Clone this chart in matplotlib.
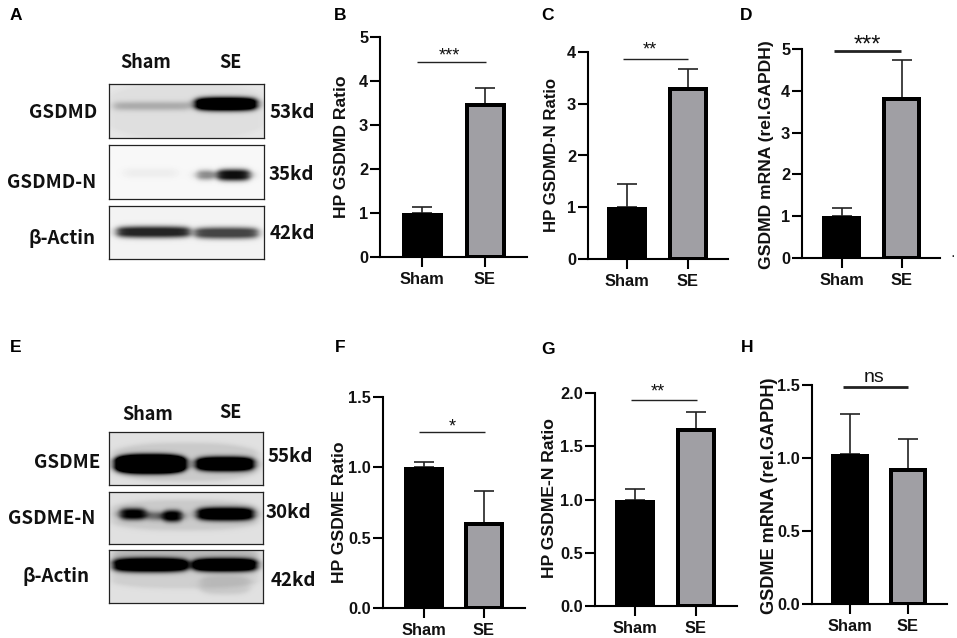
import numpy as np
import matplotlib
matplotlib.use("Agg")
import matplotlib.pyplot as plt

W, H = 957, 638
SANS = "Liberation Sans"
BLOT = "Noto Sans CJK KR"

groups = ["Sham", "SE"]

b_values = [1.0, 3.45]
b_err_top = [1.14, 3.84]
c_values = [1.0, 3.28]
c_err_top = [1.45, 3.68]
d_values = [1.0, 3.80]
d_err_top = [1.20, 4.73]
f_values = [1.0, 0.60]
f_err_top = [1.04, 0.83]
g_values = [1.0, 1.65]
g_err_top = [1.10, 1.82]
h_values = [1.03, 0.92]
h_err_top = [1.30, 1.13]

b_ticks = [0, 1, 2, 3, 4, 5]
c_ticks = [0, 1, 2, 3, 4]
d_ticks = [0, 1, 2, 3, 4, 5]
f_ticks = [0.0, 0.5, 1.0, 1.5]
g_ticks = [0.0, 0.5, 1.0, 1.5, 2.0]
h_ticks = [0.0, 0.5, 1.0, 1.5]

fig = plt.figure(figsize=(W / 100, H / 100), dpi=100, facecolor="white")


def fx(x):
    return x / W


def fy(y):
    return 1 - y / H


def ftext(x, y, s, **kw):
    kw.setdefault("family", SANS)
    kw.setdefault("fontweight", "bold")
    kw.setdefault("color", "#111111")
    kw.setdefault("va", "center")
    fig.text(fx(x), fy(y), s, **kw)


def panel(values, err_top, ticks, fmt, ylabel, sig, left, right, y0, ytop, c0, c1, bw,
          ylabel_xy, sig_label, sig_label_xy, sig_span, sig_lw=1.0, sig_size=13, ylabel_size=12.6):
    ax = fig.add_axes([fx(left), fy(y0), fx(right - left), (y0 - ytop) / H])
    s = c1 - c0
    ax.set_xlim((left - c0) / s, (right - c0) / s)
    ax.set_ylim(0, ticks[-1])
    ax.patch.set_alpha(0)
    edge_px = 4.0
    ax.bar([0], values[0], width=bw / s, color="black", zorder=2)
    ax.bar([1], values[1], width=(bw - edge_px) / s, color="#a09fa4",
           edgecolor="black", linewidth=edge_px * 0.72, zorder=2)
    xs = [0, 1]
    ax.errorbar(xs, values, yerr=[[0, 0], np.array(err_top) - np.array(values)],
                fmt="none", ecolor="#222222", elinewidth=1.2, capsize=7.2,
                capthick=1.2, zorder=1)
    ax.plot([(p - c0) / s for p in sig_span], [sig, sig], color="#222222",
            lw=sig_lw, clip_on=False, solid_capstyle="butt")
    ftext(sig_label_xy[0], sig_label_xy[1], sig_label, ha="center", fontweight="normal",
          fontsize=sig_size)
    for k in ("top", "right"):
        ax.spines[k].set_visible(False)
    for k in ("left", "bottom"):
        ax.spines[k].set_linewidth(1.5)
    ax.set_xticks(xs, groups)
    ax.set_yticks(ticks, [fmt.format(t) for t in ticks])
    ax.tick_params(axis="y", length=7, width=1.5, pad=1.5)
    ax.tick_params(axis="x", length=7, width=1.5, pad=3.5)
    for t in ax.get_xticklabels() + ax.get_yticklabels():
        t.set_family(SANS)
        t.set_fontweight("bold")
        t.set_fontsize(11.8)
        t.set_color("#111111")
    ftext(ylabel_xy[0], ylabel_xy[1], ylabel, rotation=90, ha="center", fontsize=ylabel_size)
    return ax


panel(b_values, b_err_top, b_ticks, "{:d}", "HP GSDMD Ratio", 4.43, 380, 527, 257, 37, 422, 485, 41,
      (341, 147), "***", (449, 56), (417, 486))
panel(c_values, c_err_top, c_ticks, "{:d}", "HP GSDMD-N Ratio", 3.87, 588, 728, 259, 52, 627, 687.5, 40,
      (552, 155), "**", (650, 50), (623, 688), ylabel_size=12.1)
panel(d_values, d_err_top, d_ticks, "{:d}", "GSDMD mRNA (rel.GAPDH)", 4.95, 802, 940, 258, 49, 841.5, 901.5, 39,
      (766, 155), "***", (867, 46), (834, 901), sig_lw=2.0, sig_size=17)
panel(f_values, f_err_top, f_ticks, "{:.1f}", "HP GSDME Ratio", 1.25, 383, 525, 608, 397, 424, 484, 40,
      (340, 512), "*", (452, 427), (419, 485))
panel(g_values, g_err_top, g_ticks, "{:.1f}", "HP GSDME-N Ratio", 1.93, 595, 737, 606, 393, 635, 696, 40,
      (549, 498), "**", (658, 392), (631, 697))
panel(h_values, h_err_top, h_ticks, "{:.1f}", "GSDME mRNA (rel.GAPDH)", 1.486, 812, 947, 604, 385, 850, 908, 38,
      (769, 496), "ns", (874, 377), (843, 908), sig_lw=2.0, sig_size=14, ylabel_size=13.1)

for letter, x, y in [("A", 16, 16), ("B", 340, 16), ("C", 547, 16), ("D", 746, 15),
                     ("E", 16, 348), ("F", 340, 348), ("G", 548, 349), ("H", 747, 347)]:
    ftext(x, y, letter, ha="center", fontsize=12.5, color="black")
ftext(953, 256, "·", ha="center", fontsize=10, fontweight="normal")


def blot(left, right, top, bottom, bg, bands):
    """Render one membrane strip; bands are (x0, x1, y, half height, strength) in page pixels."""
    xx, yy = np.meshgrid(np.arange(left, right) + 0.5, np.arange(top, bottom) + 0.5)
    dark = np.zeros_like(xx, dtype=float)
    for x0, x1, y, hh, k in bands:
        horiz = (1 / (1 + np.exp(-(xx - x0) / 2.5))) * (1 / (1 + np.exp((xx - x1) / 2.5)))
        taper = np.clip(1 - 0.5 * np.abs((xx - (x0 + x1) / 2) / ((x1 - x0) / 2 + 1e-6)) ** 3, 0, 1)
        vert = np.exp(-np.maximum(np.abs(yy - y) - hh * taper, 0) ** 2 / (2 * 3.0 ** 2))
        dark += k * horiz * vert
    img = bg * (1 - np.clip(dark, 0, 1))
    ax = fig.add_axes([fx(left), fy(bottom), fx(right - left), (bottom - top) / H])
    ax.imshow(img, cmap="gray", vmin=0, vmax=1, aspect="auto", interpolation="bilinear")
    ax.set_xticks([])
    ax.set_yticks([])
    for sp in ax.spines.values():
        sp.set_linewidth(0.9)
        sp.set_color("#222222")


blot(109, 264, 84, 138, 0.90, [(114, 190, 106, 0.5, 0.22), (195, 257, 104, 3, 1.35), (109, 264, 111, 25, 0.03)])
blot(109, 264, 145, 199, 0.97, [(124, 177, 173, 1, 0.04), (197, 214, 175, 1, 0.45), (217, 250, 175, 2, 0.95)])
blot(109, 264, 206, 259, 0.95, [(117, 190, 232, 2, 0.85), (195, 258, 233, 2, 0.72)])
blot(109, 263, 432, 485, 0.88, [(115, 186, 464, 6, 1.5), (196, 254, 464, 3.5, 1.3), (112, 258, 462, 16, 0.10)])
blot(109, 263, 492, 544, 0.88, [(120, 146, 514, 2, 0.95), (146, 164, 516, 0.5, 0.4), (163, 182, 516, 2, 1.0),
                                (197, 254, 514, 3, 1.1), (112, 258, 515, 12, 0.10)])
blot(109, 263, 550, 603, 0.88, [(113, 188, 565, 3.5, 1.1), (193, 257, 565, 3, 1.2), (200, 250, 585, 6, 0.10),
                                (112, 258, 558, 7, 0.18), (112, 258, 575, 10, 0.08)])

for s, x, y in [("GSDMD", 97, 112), ("GSDMD-N", 96, 183), ("β-Actin", 95, 238),
                ("GSDME", 100, 463), ("GSDME-N", 95, 519), ("β-Actin", 90, 577)]:
    ftext(x, y, s, ha="right", family=[BLOT, "DejaVu Sans"], fontsize=13.5)
for s, x, y in [("53kd", 270, 112), ("35kd", 269, 175), ("42kd", 270, 233),
                ("55kd", 268, 457), ("30kd", 266, 513), ("42kd", 271, 581)]:
    ftext(x, y, s, ha="left", family=[BLOT, "DejaVu Sans"], fontsize=13.5)
for s, x, y in [("Sham", 146, 62), ("SE", 230, 62), ("Sham", 148, 414), ("SE", 230, 413)]:
    ftext(x, y, s, ha="center", family=[BLOT, "DejaVu Sans"], fontsize=13)

fig.savefig("out.png", dpi=100)
